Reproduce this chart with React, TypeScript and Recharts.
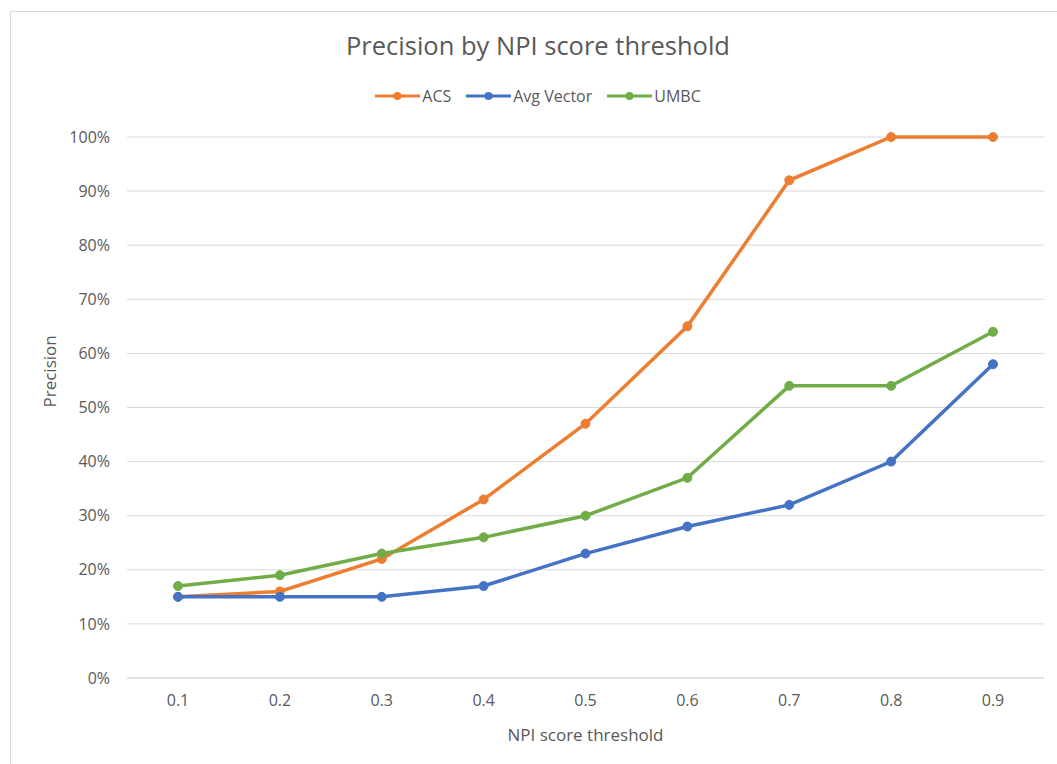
import {
  LineChart,
  Line,
  XAxis,
  YAxis,
  CartesianGrid,
} from 'recharts'

const thresholds = ['0.1', '0.2', '0.3', '0.4', '0.5', '0.6', '0.7', '0.8', '0.9']
const acs = [15, 16, 22, 33, 47, 65, 92, 100, 100]
const avgVector = [15, 15, 15, 17, 23, 28, 32, 40, 58]
const umbc = [17, 19, 23, 26, 30, 37, 54, 54, 64]
const yTicks = [0, 10, 20, 30, 40, 50, 60, 70, 80, 90, 100]

const series = [
  { key: 'ACS', color: '#ED7D31' },
  { key: 'Avg Vector', color: '#4472C4' },
  { key: 'UMBC', color: '#70AD47' },
]

const data = thresholds.map((t, i) => ({
  threshold: t,
  ACS: acs[i],
  'Avg Vector': avgVector[i],
  UMBC: umbc[i],
}))

const FONT = '"Open Sans", sans-serif'
const TEXT = '#595959'
const GRID = '#d9d9d9'

function ChartLegend() {
  return (
    <div
      style={{
        position: 'absolute',
        left: 0,
        top: 85,
        width: 1076,
        display: 'flex',
        justifyContent: 'center',
        gap: 15,
        fontFamily: FONT,
        fontSize: 16,
        color: TEXT,
      }}
    >
      {series.map((s) => (
        <div key={s.key} style={{ display: 'flex', alignItems: 'center' }}>
          <svg width={45} height={10} style={{ marginRight: 2 }}>
            <line x1={0} y1={5} x2={45} y2={5} stroke={s.color} strokeWidth={3} />
            <circle cx={22.5} cy={5} r={4} fill={s.color} />
          </svg>
          <span>{s.key}</span>
        </div>
      ))}
    </div>
  )
}

export default function App() {
  return (
    <div style={{ position: 'absolute', left: 0, top: 0, width: 1057, height: 764, background: '#fff', overflow: 'hidden' }}>
      <div
        style={{
          position: 'absolute',
          left: 10,
          top: 11,
          width: 1100,
          height: 800,
          borderLeft: `1px solid ${GRID}`,
          borderTop: `1px solid ${GRID}`,
        }}
      />
      <div
        style={{
          position: 'absolute',
          left: 0,
          top: 28,
          width: 1076,
          textAlign: 'center',
          fontFamily: FONT,
          fontSize: 25.5,
          color: TEXT,
        }}
      >
        Precision by NPI score threshold
      </div>
      <ChartLegend />
      <div style={{ position: 'absolute', left: 0, top: 0 }}>
        <LineChart width={1057} height={764} data={data} margin={{ top: 137, right: 13, bottom: 0, left: 0 }}>
          <CartesianGrid vertical={false} stroke={GRID} />
          <XAxis
            dataKey="threshold"
            padding={{ left: 51, right: 51 }}
            axisLine={{ stroke: GRID }}
            tickLine={false}
            tickSize={6}
            tickMargin={11}
            tick={{ fontSize: 16, fill: TEXT, fontFamily: FONT }}
            label={{ value: 'NPI score threshold', position: 'insideBottom', offset: 23, fontSize: 17, fill: TEXT, fontFamily: FONT }}
            height={86}
          />
          <YAxis
            domain={[0, 100]}
            ticks={yTicks}
            tickFormatter={(v: number) => `${v}%`}
            axisLine={false}
            tickLine={false}
            tickSize={6}
            tickMargin={11}
            tick={{ fontSize: 16, fill: TEXT, fontFamily: FONT }}
            width={127}
            label={{ value: 'Precision', angle: -90, position: 'insideLeft', offset: 50, fontSize: 17, fill: TEXT, fontFamily: FONT }}
          />
          {series.map((s) => (
            <Line
              key={s.key}
              dataKey={s.key}
              stroke={s.color}
              strokeWidth={3.5}
              dot={{ r: 4.5, fill: s.color, stroke: s.color, strokeWidth: 1 }}
              activeDot={false}
              isAnimationActive={false}
            />
          ))}
        </LineChart>
      </div>
    </div>
  )
}
